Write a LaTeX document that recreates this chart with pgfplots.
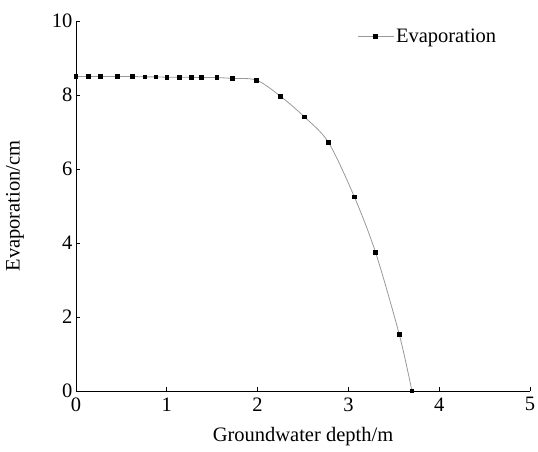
\documentclass[border=0pt]{standalone}
\usepackage{fontspec}
\setmainfont{Liberation Serif}
\usepackage{pgfplots}
\pgfplotsset{compat=1.18}
\begin{document}
\begin{tikzpicture}
\useasboundingbox (-76pt,-61pt) rectangle (462pt,391pt);
\begin{axis}[
  at={(0,0)}, anchor=south west,
  scale only axis, width=454pt, height=370pt,
  xmin=0, xmax=5, ymin=0, ymax=10,
  axis lines=left, axis line style={-, black, line width=0.8pt},
  tick align=inside, major tick length=4pt,
  tick style={black, line width=0.8pt},
  xtick={0,1,2,3,4,5}, ytick={0,2,4,6,8,10},
  /pgf/number format/assume math mode=true,
  ticklabel style={font=\fontsize{20.5}{22}\selectfont},
  xticklabel style={yshift=-3pt},
  label style={font=\fontsize{20.5}{22}\selectfont},
  xlabel={Groundwater depth/m}, ylabel={Evaporation/cm},
  xlabel style={at={(axis description cs:0.5,0)}, anchor=center, yshift=-46pt},
  ylabel style={at={(axis description cs:0,0.5)}, anchor=center, yshift=61pt},
  legend style={draw=none, fill=none, at={(axis description cs:0.937,0.99)}, anchor=north east, font=\fontsize{20.5}{22}\selectfont},
  legend cell align=left,
  legend image code/.code={\draw[mark repeat=2, mark phase=2, #1] plot coordinates {(0pt,0pt)(18pt,0pt)(36pt,0pt)};},
  clip=false,
]
\addplot[smooth, color=gray!80, line width=0.8pt, mark=square*, mark size=1.8pt, mark options={black, fill=black}]
coordinates {(0,8.5)(0.135,8.5)(0.27,8.5)(0.455,8.5)(0.62,8.5)(0.76,8.49)(0.88,8.49)(1.0,8.48)(1.14,8.48)(1.27,8.48)(1.38,8.47)(1.55,8.47)(1.72,8.45)(1.99,8.40)(2.25,7.97)(2.515,7.41)(2.78,6.72)(3.065,5.25)(3.30,3.74)(3.56,1.53)(3.70,0)};
\addlegendentry{Evaporation}
\end{axis}
\end{tikzpicture}
\end{document}
